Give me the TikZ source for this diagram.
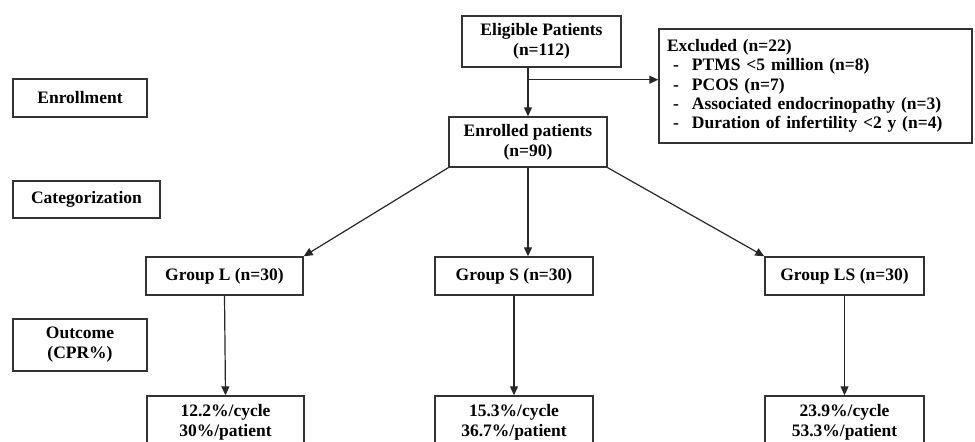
\documentclass[tikz,border=0pt]{standalone}
\usepackage{fontspec}
\setmainfont{Liberation Serif}
\usetikzlibrary{positioning,calc}
\usetikzlibrary{arrows.meta}
\newcommand{\exitem}[1]{\hspace*{3pt}\makebox[9.5pt][l]{-}#1}
\tikzset{box/.style={draw=black!80,line width=0.7pt,fill=white,align=center,inner sep=2pt,font=\fontsize{8.75}{10}\selectfont\bfseries}, stage/.style={box,minimum width=67pt}, arr/.style={-{Triangle[length=4.5pt,width=4pt]},line width=0.6pt,draw=black!85}}

\begin{document}
\begin{tikzpicture}[x=0.5pt,y=-0.5pt]
\useasboundingbox (0,0) rectangle (975,442);
\clip (0,0) rectangle (975,442);
\coordinate (pelig) at (541.5,41.5);
\coordinate (pexcl) at (815.5,86);
\coordinate (penrol) at (528,142);
\coordinate (pst1) at (80,98);
\coordinate (pst2) at (86.5,199.5);
\coordinate (pst3) at (80,345);
\coordinate (pgl) at (224.5,276);
\coordinate (pgs) at (514,276);
\coordinate (pgls) at (844.5,276);
\coordinate (prl) at (225.5,422.5);
\coordinate (prs) at (514,422.5);
\coordinate (prls) at (844.5,422.5);
\node[stage,minimum height=19pt] (st1) at (pst1) {Enrollment};
\node[stage,minimum width=73.5pt,minimum height=18.5pt] (st2) at (pst2) {Categorization};
\node[stage,minimum height=26pt] (st3) at (pst3) {Outcome\\(CPR\%)};
\node[box,minimum width=79.5pt,minimum height=25.5pt] (elig) at (pelig) {Eligible Patients\\(n=112)};
\node[box,align=left,text width=148.5pt,minimum height=57pt,inner sep=4pt,font=\fontsize{8.75}{9.7}\selectfont\bfseries] (excl) at (pexcl) {Excluded (n=22)\\\exitem{PTMS <5 million (n=8)}\\\exitem{PCOS (n=7)}\\\exitem{Associated endocrinopathy (n=3)}\\\exitem{Duration of infertility <2 y (n=4)}};
\node[box,minimum width=79pt,minimum height=25pt] (enrol) at (penrol) {Enrolled patients\\(n=90)};
\node[box,minimum width=78.5pt,minimum height=19pt] (gl) at (pgl) {Group L (n=30)};
\node[box,minimum width=79pt,minimum height=19pt] (gs) at (pgs) {Group S (n=30)};
\node[box,minimum width=79.5pt,minimum height=19pt] (gls) at (pgls) {Group LS (n=30)};
\node[box,minimum width=78.5pt,minimum height=26.5pt] (rl) at (prl) {12.2\%/cycle\\30\%/patient};
\node[box,minimum width=79pt,minimum height=26.5pt] (rs) at (prs) {15.3\%/cycle\\36.7\%/patient};
\node[box,minimum width=79.5pt,minimum height=26.5pt] (rls) at (prls) {23.9\%/cycle\\53.3\%/patient};
\coordinate (br) at ($(elig.south -| enrol.north)+(0,12)$);
\draw[arr] (elig.south -| enrol.north) -- (enrol.north);
\draw[arr] (br) -- (br -| excl.west);
\draw[arr] (enrol.south west) -- (gl.north east);
\draw[arr] (enrol.south) -- (enrol.south |- gs.north);
\draw[arr] (enrol.south east) -- (gls.north west);
\draw[arr] (gl.south) -- (rl.north);
\draw[arr] (gs.south) -- (rs.north);
\draw[arr] (gls.south) -- (rls.north);
\end{tikzpicture}
\end{document}
